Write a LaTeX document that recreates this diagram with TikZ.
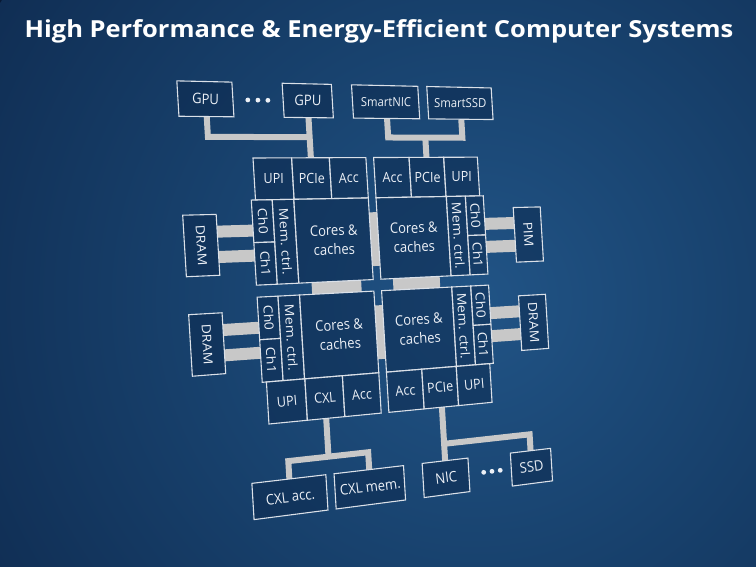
\documentclass[tikz,border=0pt]{standalone}
\usepackage{fontspec}
\setmainfont{Open Sans}
\definecolor{bgA}{RGB}{33,84,134}
\definecolor{bgB}{RGB}{24,66,110}
\definecolor{bgC}{RGB}{16,46,84}
\definecolor{bgD}{RGB}{10,31,62}
\definecolor{bgE}{RGB}{8,25,52}
\definecolor{boxfill}{RGB}{12,40,76}
\definecolor{edgec}{RGB}{218,224,232}
\definecolor{linkc}{RGB}{200,200,200}
\definecolor{txtc}{RGB}{236,240,246}
\pgfdeclareradialshading{bgglow}{\pgfpoint{0bp}{0bp}}{color(0bp)=(bgA); color(12bp)=(bgB); color(25bp)=(bgC); color(40bp)=(bgD); color(50bp)=(bgE)}
% perspective map from flat (u,v) to picture (x,y), y downwards
\newcommand\Pq[2]{%
  \pgfmathsetmacro\pw{0.000369*(#1)+1}%
  \pgfmathsetmacro\px{(1.1418*(#1)+0.06*(#2)+253)/\pw}%
  \pgfmathsetmacro\py{(0.0539*(#1)+(#2)+158)/\pw}}
\makeatletter
\def\qcs@parse#1,#2\qcs@end{\Pq{#1}{#2}\pgfpoint{\px pt}{-\py pt}}
\tikzdeclarecoordinatesystem{q}{\qcs@parse#1\qcs@end}
\makeatother
\newcommand\qang[3]{%
  \if#1h
    \Pq{#2-4}{#3}\let\xa\px\let\ya\py
    \Pq{#2+4}{#3}\let\xb\px\let\yb\py
  \else
    \Pq{#2}{#3-4}\let\xa\px\let\ya\py
    \Pq{#2}{#3+4}\let\xb\px\let\yb\py
  \fi
  \pgfmathsetmacro\qa{atan2(\ya-\yb,\xb-\xa)}}
\newcommand\qbox[8][]{%
  \path[boxst] (q cs:#3,#4) -- (q cs:#5,#4) -- (q cs:#5,#6) -- (q cs:#3,#6) -- cycle;
  \pgfmathsetmacro\cu{(#3+#5)/2}\pgfmathsetmacro\cv{(#4+#6)/2}%
  \qang{#7}{\cu}{\cv}%
  \if#7h\tikzset{qsc/.style={xscale=0.9}}\else\tikzset{qsc/.style={yscale=0.9}}\fi
  \node[lbl,#1,rotate=\qa,qsc] (#2) at (q cs:\cu,\cv) {#8};}
\begin{document}
\begin{tikzpicture}[x=1pt,y=-1pt,
  boxst/.style={draw=edgec,line width=1.1pt,fill=boxfill,fill opacity=0.5,line join=miter},
  lbl/.style={text=txtc,font=\fontsize{14}{18}\selectfont,align=center,inner sep=0pt},
  small/.style={font=\fontsize{12.5}{14}\selectfont},
  big/.style={font=\fontsize{14.5}{19}\selectfont},
  link/.style={draw=linkc,line width=6pt,line join=miter},
  membar/.style={draw=linkc,line width=12pt},
  vlink/.style={draw=linkc,line width=8pt},
  hlink/.style={draw=linkc,line width=12pt}]
\useasboundingbox (0,0) rectangle (756,567);
\fill[bgE] (0,0) rectangle (756,567);
\begin{scope}
\clip (0,0) rectangle (756,567);
\shade[shading=bgglow] (475,300) circle[radius=560pt];
\end{scope}
\node[font=\bfseries\fontsize{25.5}{30}\selectfont,text=white,yscale=0.92] (title) at (379,31) {High Performance \& Energy-Efficient Computer Systems};
% ---- connector coordinates
\coordinate (c-g1) at (q cs:-41.1,-41);
\coordinate (c-g1j) at (q cs:-41.1,-21);
\coordinate (c-g2j) at (q cs:56.3,-21);
\coordinate (c-g2) at (q cs:56.3,-41);
\coordinate (c-tlp) at (q cs:56.3,0);
\coordinate (c-sn) at (q cs:136.5,-41);
\coordinate (c-snj) at (q cs:136.5,-21);
\coordinate (c-ssj) at (q cs:216.6,-21);
\coordinate (c-ss) at (q cs:216.6,-41);
\coordinate (c-trj) at (q cs:176,-21);
\coordinate (c-trp) at (q cs:176,0);
\coordinate (c-blx) at (q cs:56,266);
\coordinate (c-blxj) at (q cs:56,305);
\coordinate (c-cxa) at (q cs:16.4,323);
\coordinate (c-cxaj) at (q cs:16.4,305);
\coordinate (c-cxmj) at (q cs:96.2,305);
\coordinate (c-cxm) at (q cs:96.2,323);
\coordinate (c-brp) at (q cs:176.5,266);
\coordinate (c-nicj) at (q cs:176.5,305);
\coordinate (c-nic) at (q cs:176.5,323);
\coordinate (c-ssdj) at (q cs:272.5,305);
\coordinate (c-ssd) at (q cs:272.5,323);
\draw[link] (c-g1) -- (c-g1j) -- (c-g2j);
\draw[link] (c-g2) -- (c-tlp);
\draw[link] (c-sn) -- (c-snj) -- (c-ssj) -- (c-ss);
\draw[link] (c-trj) -- (c-trp);
\draw[link] (c-blx) -- (c-blxj);
\draw[link] (c-cxa) -- (c-cxaj) -- (c-cxmj) -- (c-cxm);
\draw[link] (c-brp) -- (c-nic);
\draw[link] (c-nicj) -- (c-ssdj) -- (c-ssd);
% memory channel bars
\foreach \vv in {72.5,97.5,169.5,194.5}{
  \coordinate (m-l1) at (q cs:-37.8,\vv);
  \coordinate (m-l2) at (q cs:-4,\vv);
  \coordinate (m-r1) at (q cs:236,\vv);
  \coordinate (m-r2) at (q cs:269.3,\vv);
  \draw[membar] (m-l1) -- (m-l2);
  \draw[membar] (m-r1) -- (m-r2);
}
% socket links
\coordinate (k-t1) at (q cs:116,57);
\coordinate (k-t2) at (q cs:116,113);
\coordinate (k-b1) at (q cs:116,154);
\coordinate (k-b2) at (q cs:116,210);
\coordinate (k-l1) at (q cs:49.5,133);
\coordinate (k-l2) at (q cs:99.5,133);
\coordinate (k-r1) at (q cs:132.5,133);
\coordinate (k-r2) at (q cs:182.5,133);
\draw[vlink] (k-t1) -- (k-t2);
\draw[vlink] (k-b1) -- (k-b2);
\draw[hlink] (k-l1) -- (k-l2);
\draw[hlink] (k-r1) -- (k-r2);
% ---- top devices
\qbox[big]{gpu1}{-66.5}{-75.5}{-15.7}{-41}{h}{GPU}
\qbox[big]{gpu2}{32.4}{-75.5}{81.2}{-41}{h}{GPU}
\qbox[small]{snic}{101.7}{-75.5}{171.2}{-41}{h}{SmartNIC}
\qbox[small]{sssd}{180.9}{-75.5}{252.3}{-41}{h}{SmartSSD}
\fill[txtc] (q cs:-1.6,-58) circle[radius=2.4pt] (q cs:8,-58) circle[radius=2.4pt] (q cs:17.6,-58) circle[radius=2.4pt];
% ---- top-left socket
\qbox{tlupi}{0}{0}{37.3}{42}{h}{UPI}
\qbox{tlpcie}{37.3}{0}{74.7}{42}{h}{PCIe}
\qbox{tlacc}{74.7}{0}{112}{42}{h}{Acc}
\qbox{tlch0}{-4}{42}{16}{84.5}{v}{Ch0}
\qbox{tlch1}{-4}{84.5}{16}{127}{v}{Ch1}
\qbox{tlmem}{16}{42}{37}{127}{v}{Mem. ctrl.}
\qbox[big]{tlcore}{37}{42}{112}{127}{h}{Cores \&\\caches}
% ---- top-right socket
\qbox{tracc}{120}{0}{157.3}{42}{h}{Acc}
\qbox{trpcie}{157.3}{0}{194.7}{42}{h}{PCIe}
\qbox{trupi}{194.7}{0}{232}{42}{h}{UPI}
\qbox[big]{trcore}{120}{42}{195}{127}{h}{Cores \&\\caches}
\qbox{trmem}{195}{42}{216}{127}{v}{Mem. ctrl.}
\qbox{trch0}{216}{42}{236}{84.5}{v}{Ch0}
\qbox{trch1}{216}{84.5}{236}{127}{v}{Ch1}
% ---- bottom-left socket
\qbox{blch0}{-4}{139}{16}{181.5}{v}{Ch0}
\qbox{blch1}{-4}{181.5}{16}{224}{v}{Ch1}
\qbox{blmem}{16}{139}{37}{224}{v}{Mem. ctrl.}
\qbox[big]{blcore}{37}{139}{112}{224}{h}{Cores \&\\caches}
\qbox{blupi}{0}{224}{37.3}{266}{h}{UPI}
\qbox{blcxl}{37.3}{224}{74.7}{266}{h}{CXL}
\qbox{blacc}{74.7}{224}{112}{266}{h}{Acc}
% ---- bottom-right socket
\qbox[big]{brcore}{120}{139}{195}{224}{h}{Cores \&\\caches}
\qbox{brmem}{195}{139}{216}{224}{v}{Mem. ctrl.}
\qbox{brch0}{216}{139}{236}{181.5}{v}{Ch0}
\qbox{brch1}{216}{181.5}{236}{224}{v}{Ch1}
\qbox{bracc}{120}{224}{157.3}{266}{h}{Acc}
\qbox{brpcie}{157.3}{224}{194.7}{266}{h}{PCIe}
\qbox{brupi}{194.7}{224}{232}{266}{h}{UPI}
% ---- memories
\qbox{dramtl}{-68.5}{55.5}{-37.8}{115.5}{v}{DRAM}
\qbox{pim}{269.3}{55.5}{300.7}{115.5}{v}{PIM}
\qbox{drambl}{-68.5}{152.5}{-37.8}{212.5}{v}{DRAM}
\qbox{drambr}{269.3}{152.5}{300.7}{212.5}{v}{DRAM}
% ---- bottom devices
\qbox[big]{cxlacc}{-19.5}{323}{52.3}{359}{h}{CXL acc.}
\qbox[big]{cxlmem}{60.5}{323}{131.9}{359}{h}{CXL mem.}
\qbox[big]{nic}{151.7}{323}{201.5}{359}{h}{NIC}
\qbox[big]{ssd}{249.2}{323}{295.9}{359}{h}{SSD}
\fill[txtc] (q cs:218,340.3) circle[radius=2.4pt] (q cs:227.3,340.3) circle[radius=2.4pt] (q cs:236.6,340.3) circle[radius=2.4pt];
\end{tikzpicture}
\end{document}
